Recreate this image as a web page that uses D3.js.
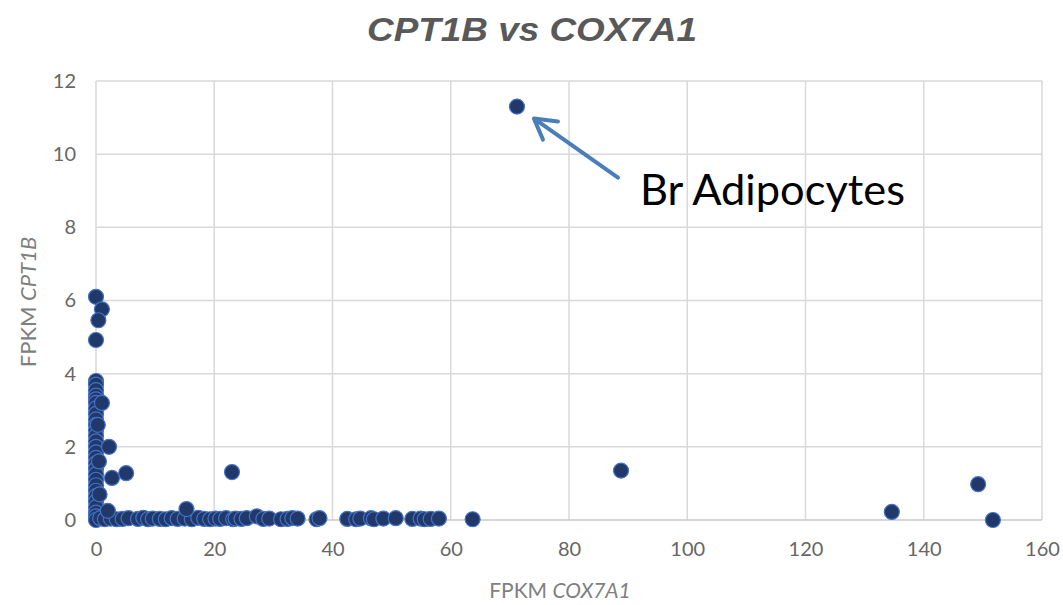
<!DOCTYPE html>
<html>
<head>
<meta charset="utf-8">
<script src="https://cdn.jsdelivr.net/npm/d3@7"></script>
<style>
  body { margin: 0; background: #fff; }
  svg { display: block; }
</style>
</head>
<body>
<div id="viz"></div>
<script>
// values (FPKM COX7A1 on x, FPKM CPT1B on y)
let columnY = [3.8, 3.7, 3.55, 3.4, 3.3, 3.2, 3.05, 2.9, 2.75, 2.6, 2.45, 2.3, 2.15, 2.0, 1.85, 1.7,
               1.55, 1.4, 1.25, 1.1, 0.95, 0.8, 0.65, 0.5, 0.35, 0.2, 0.1, 0.0];
let bottomX = [0.7, 1.5, 2.5, 3.5, 4.5, 5.5, 7.1, 8.0, 8.8, 9.6, 10.8, 11.8, 12.8, 13.8, 15.0, 16.2,
               17.3, 18.3, 19.3, 20.2, 21.0, 22.0, 23.2, 23.6, 24.6, 25.5, 27.2, 28.3, 29.3, 31.3,
               32.4, 33.2, 34.1, 37.3, 37.8, 42.5, 44.0, 44.7, 46.5, 47.0, 48.6, 50.7, 53.5,
               54.9, 55.6, 56.6, 58.0, 63.7];
let bottomY = [0.05, 0.02, 0.04, 0.02, 0.03, 0.05, 0.03, 0.06, 0.02, 0.04, 0.03, 0.02, 0.05, 0.03, 0.04, 0.02,
               0.06, 0.03, 0.02, 0.04, 0.03, 0.05, 0.02, 0.04, 0.03, 0.05, 0.1, 0.03, 0.04, 0.02,
               0.03, 0.05, 0.04, 0.02, 0.05, 0.03, 0.02, 0.04, 0.05, 0.02, 0.04, 0.05, 0.03,
               0.04, 0.02, 0.03, 0.04, 0.02];
let otherX = [0.0, 1.0, 0.4, 0.0, 1.0, 2.2, 2.7, 5.1, 23.0, 15.3, 2.0, 0.5, 0.3, 0.6, 71.2, 88.8, 134.6, 149.2, 151.7];
let otherY = [6.1, 5.76, 5.46, 4.92, 3.2, 2.0, 1.15, 1.28, 1.31, 0.3, 0.25, 1.6, 2.6, 0.7, 11.3, 1.35, 0.22, 0.98, 0.0];

let xTicks = [0, 20, 40, 60, 80, 100, 120, 140, 160];
let yTicks = [0, 2, 4, 6, 8, 10, 12];

let title = 'CPT1B vs COX7A1',
    annotation = 'Br Adipocytes',
    highlight = 14; // index in otherX/otherY for the labelled point

let points = [];
columnY.forEach(function(y){ points.push({x: 0, y: y}); });
bottomX.forEach(function(x, i){ points.push({x: x, y: bottomY[i]}); });
otherX.forEach(function(x, i){ points.push({x: x, y: otherY[i]}); });

let width = 1063,
    height = 605,
    margin = {top: 81, right: 21, bottom: 85, left: 96};

let xScale = d3.scaleLinear().domain([0, 160]).range([margin.left, width - margin.right]);
let yScale = d3.scaleLinear().domain([0, 12]).range([height - margin.bottom, margin.top]);

let svg = d3.select('#viz').append('svg')
    .attr('width', width)
    .attr('height', height);

// grid
svg.append('g')
  .selectAll('line').data(yTicks.slice(1))
  .enter().append('line')
    .attr('x1', xScale(0)).attr('x2', xScale(160))
    .attr('y1', function(d){ return yScale(d); })
    .attr('y2', function(d){ return yScale(d); })
    .style('stroke', '#d9d9d9').style('stroke-width', 1.5);
svg.append('g')
  .selectAll('line').data(xTicks)
  .enter().append('line')
    .attr('y1', yScale(0)).attr('y2', yScale(12))
    .attr('x1', function(d){ return xScale(d); })
    .attr('x2', function(d){ return xScale(d); })
    .style('stroke', '#d9d9d9').style('stroke-width', 1.5);
// zero line
svg.append('line')
    .attr('x1', xScale(0)).attr('x2', xScale(160))
    .attr('y1', yScale(0)).attr('y2', yScale(0))
    .style('stroke', '#c8c8c8').style('stroke-width', 1.5);

// axes (labels only)
let xAxis = d3.axisBottom(xScale).tickValues(xTicks).tickSize(0).tickPadding(22);
let yAxis = d3.axisLeft(yScale).tickValues(yTicks).tickSize(0).tickPadding(20);

let gx = svg.append('g')
    .attr('transform', 'translate(0,' + yScale(0) + ')')
    .call(xAxis);
let gy = svg.append('g')
    .attr('transform', 'translate(' + xScale(0) + ',0)')
    .call(yAxis);
[gx, gy].forEach(function(g){
  g.select('.domain').remove();
  g.selectAll('text')
    .style('font-family', 'Lato, "Open Sans", sans-serif')
    .style('font-size', '20px')
    .style('fill', '#666');
});

// points
svg.append('g')
  .selectAll('circle').data(points)
  .enter().append('circle')
    .attr('cx', function(d){ return xScale(d.x); })
    .attr('cy', function(d){ return yScale(d.y); })
    .attr('r', 7.5)
    .style('fill', '#21386a')
    .style('stroke', '#4472c4')
    .style('stroke-width', 1.2);

// title
svg.append('text')
    .attr('x', 532).attr('y', 41)
    .attr('text-anchor', 'middle')
    .attr('textLength', 330)
    .attr('lengthAdjust', 'spacingAndGlyphs')
    .style('font-family', '"Liberation Sans", Arial, sans-serif')
    .style('font-weight', 'bold')
    .style('font-style', 'italic')
    .style('font-size', '33px')
    .style('fill', '#595959')
    .text(title);

// axis titles
let xt = svg.append('text')
    .attr('x', 560).attr('y', 598)
    .attr('text-anchor', 'middle')
    .style('font-family', 'Lato, "Open Sans", sans-serif')
    .style('font-size', '21px')
    .style('fill', '#7f7f7f');
xt.append('tspan').text('FPKM ');
xt.append('tspan').style('font-style', 'italic').text('COX7A1');

let yt = svg.append('text')
    .attr('transform', 'translate(36,302) rotate(-90)')
    .attr('text-anchor', 'middle')
    .style('font-family', 'Lato, "Open Sans", sans-serif')
    .style('font-size', '22px')
    .style('fill', '#7f7f7f');
yt.append('tspan').text('FPKM ');
yt.append('tspan').style('font-style', 'italic').text('CPT1B');

// annotation arrow + label
let hx = xScale(otherX[highlight]),
    hy = yScale(otherY[highlight]);
let tip = [hx + 17, hy + 12],
    tail = [hx + 101, hy + 71];
svg.append('line')
    .attr('x1', tail[0]).attr('y1', tail[1])
    .attr('x2', tip[0] + 3).attr('y2', tip[1] + 2)
    .style('stroke', '#4a7ebb').style('stroke-width', 4)
    .style('stroke-linecap', 'round');
svg.append('path')
    .attr('d', 'M' + (tip[0] + 24) + ',' + (tip[1] + 3) + 'L' + tip[0] + ',' + tip[1] + 'L' + (tip[0] + 9) + ',' + (tip[1] + 21))
    .style('fill', 'none')
    .style('stroke', '#4a7ebb').style('stroke-width', 4)
    .style('stroke-linecap', 'round').style('stroke-linejoin', 'round');

svg.append('text')
    .attr('x', 640).attr('y', 205)
    .attr('textLength', 265)
    .attr('lengthAdjust', 'spacingAndGlyphs')
    .style('font-family', 'Lato, "Open Sans", sans-serif')
    .style('font-size', '42px')
    .style('fill', '#000')
    .text(annotation);
</script>
</body>
</html>
